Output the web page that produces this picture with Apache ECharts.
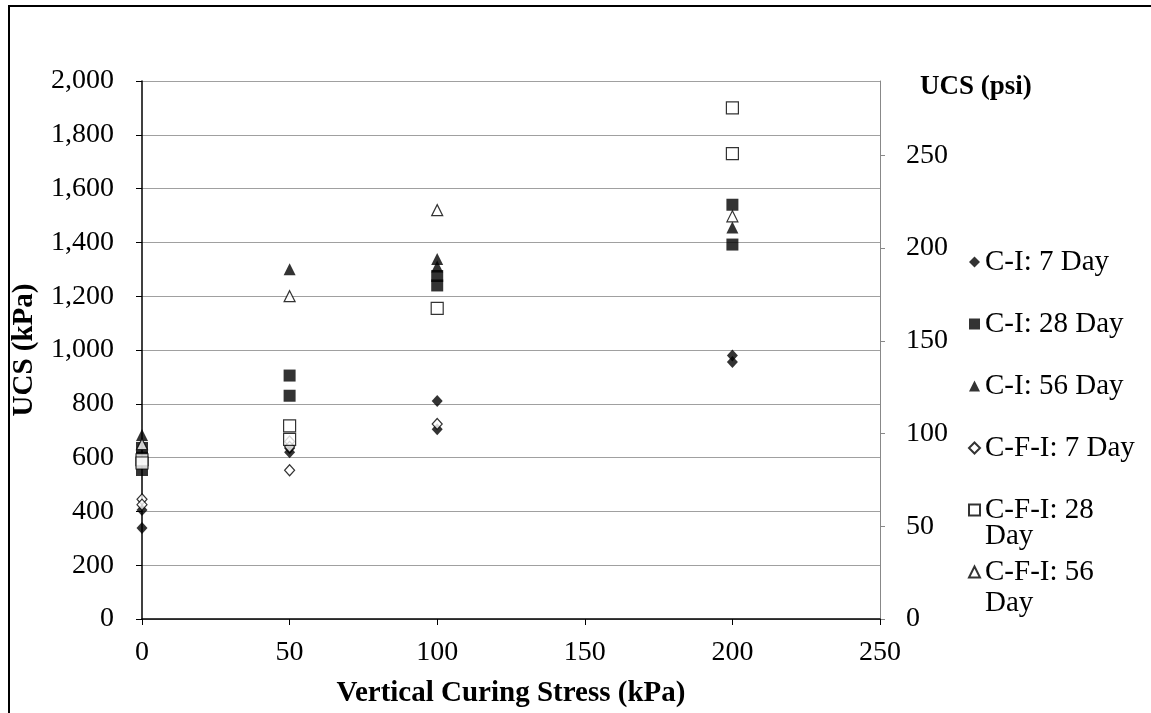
<!DOCTYPE html>
<html><head><meta charset="utf-8">
<script src="https://cdn.jsdelivr.net/npm/echarts@6/dist/echarts.min.js"></script>
<style>html,body{margin:0;padding:0;background:#fff}#c{width:1151px;height:713px}</style>
</head><body><div id="c"></div>
<script>
// ---- data ----
const seriesNames = ["C-I: 7 Day","C-I: 28 Day","C-I: 56 Day","C-F-I: 7 Day","C-F-I: 28 Day","C-F-I: 56 Day"];
const ci7Stress  = [0,0,50,50,100,100,200,200];
const ci7Ucs     = [405,338,635,620,810,705,980,955];
const ci28Stress = [0,0,0,50,50,100,100,200,200];
const ci28Ucs    = [636,600,554,905,830,1275,1240,1540,1392];
const ci56Stress = [0,50,100,100,200];
const ci56Ucs    = [684,1300,1338,1310,1455];
const cfi7Stress = [0,0,50,50,50,100];
const cfi7Ucs    = [445,425,660,640,553,725];
const cfi28Stress= [0,0,50,50,100,200,200];
const cfi28Ucs   = [592,580,718,668,1155,1900,1730];
const cfi56Stress= [0,50,100,200];
const cfi56Ucs   = [650,1200,1520,1497];
const KPA_PER_PSI = 6.89476;

const pairs = (xs, ys) => xs.map((x, i) => [x, ys[i]]);
const F = "'Liberation Serif','Times New Roman',serif";
const filled = {color:'#000'};
const open = {color:'#fff', borderColor:'#000', borderWidth:1.2};
const styles = [
  {symbol:'diamond', size:[11,12], st:filled, d:pairs(ci7Stress,ci7Ucs)},
  {symbol:'rect', size:12, st:filled, d:pairs(ci28Stress,ci28Ucs)},
  {symbol:'triangle', size:[12,12], st:filled, d:pairs(ci56Stress,ci56Ucs)},
  {symbol:'diamond', size:[10,11], st:open, d:pairs(cfi7Stress,cfi7Ucs)},
  {symbol:'rect', size:12, st:open, d:pairs(cfi28Stress,cfi28Ucs)},
  {symbol:'triangle', size:[11,11], st:open, d:pairs(cfi56Stress,cfi56Ucs)}
];
const legendLabel = n => (n === 'C-F-I: 28 Day' || n === 'C-F-I: 56 Day') ? n.replace(/ Day$/, '') : n;

const chart = echarts.init(document.getElementById('c'));
chart.setOption({
  animation:false,
  backgroundColor:'#fff',
  textStyle:{fontFamily:F},
  grid:{left:142, right:271, top:81, bottom:94, containLabel:false, outerBoundsMode:'none'},
  xAxis:{type:'value', min:0, max:250, interval:50,
    name:'Vertical Curing Stress (kPa)', nameLocation:'middle', nameGap:60,
    nameTextStyle:{fontFamily:F, fontSize:29, fontWeight:'bold', color:'#000'},
    axisLine:{show:true, lineStyle:{color:'#000', width:1.5}},
    axisTick:{show:true, length:6, lineStyle:{color:'#000'}},
    axisLabel:{fontFamily:F, fontSize:28, color:'#000', margin:20},
    splitLine:{show:false}},
  yAxis:[
    {type:'value', min:0, max:2000, interval:200,
     name:'UCS (kPa)', nameLocation:'middle', nameGap:103, nameRotate:90,
     nameTextStyle:{fontFamily:F, fontSize:29, fontWeight:'bold', color:'#000'},
     axisLine:{show:true, lineStyle:{color:'#000', width:1.5}},
     axisTick:{show:true, length:6, lineStyle:{color:'#000'}},
     axisLabel:{fontFamily:F, fontSize:28, color:'#000', margin:28,
       formatter:v=>v.toString().replace(/\B(?=(\d{3})+(?!\d))/g, ',')},
     splitLine:{show:true, lineStyle:{color:'#a0a0a0', width:1}}},
    {type:'value', min:0, max:2000/KPA_PER_PSI, interval:50, position:'right',
     axisLine:{show:true, lineStyle:{color:'#888', width:1}},
     axisTick:{show:true, length:5, lineStyle:{color:'#888'}},
     axisLabel:{fontFamily:F, fontSize:28, color:'#000', margin:26, showMaxLabel:false},
     splitLine:{show:false}}
  ],
  legend:{orient:'vertical', left:963, top:242, itemGap:32, itemWidth:11, itemHeight:11,
    data:seriesNames.map(n=>({name:n})),
    formatter:legendLabel,
    textStyle:{fontFamily:F, fontSize:29, color:'#000', lineHeight:30, padding:[0,0,0,0]}},
  graphic:[
    {type:'rect', shape:{x:9, y:6, width:1200, height:800}, style:{fill:'none', stroke:'#000', lineWidth:2}, silent:true},
    {type:'text', x:920, y:74, style:{text:'UCS (psi)', fontFamily:F, fontSize:27, fontWeight:'bold', fill:'#000'}},
    {type:'text', x:985, y:522, style:{text:'Day', fontFamily:F, fontSize:29, fill:'#000'}},
    {type:'text', x:985, y:589, style:{text:'Day', fontFamily:F, fontSize:29, fill:'#000'}}
  ],
  series: styles.map((s,i)=>({
    name:seriesNames[i], type:'scatter', yAxisIndex:0,
    symbol:s.symbol, symbolSize:s.size, itemStyle:s.st, data:s.d, z:2+i
  }))
});
</script></body></html>
